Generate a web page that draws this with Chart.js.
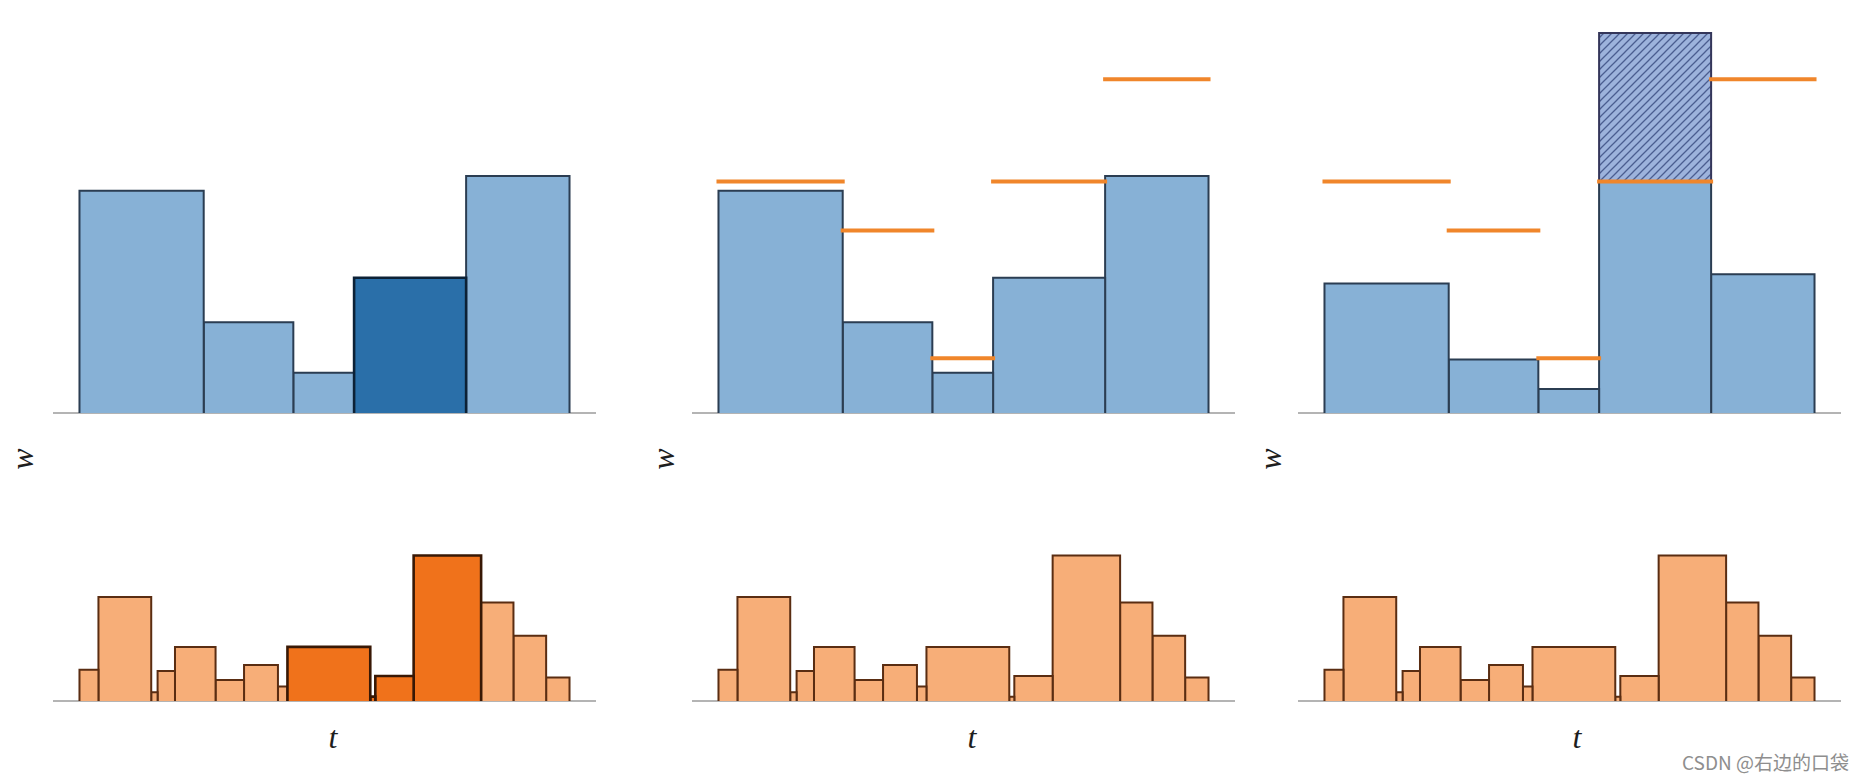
<!DOCTYPE html>
<html><head><meta charset="utf-8">
<script src="https://cdn.jsdelivr.net/npm/chart.js@4.4.1/dist/chart.umd.min.js"></script>
<style>
html,body{margin:0;padding:0;background:#fff;overflow:hidden;}
#stage{position:relative;width:1867px;height:780px;background:#fff;}
canvas{position:absolute;}
.lbl{position:absolute;font-family:"Liberation Serif","DejaVu Serif",serif;font-style:italic;font-size:32px;color:#1e1e1e;line-height:1;transform:translate(-50%,-50%);white-space:nowrap;}
.w{transform:translate(-50%,-50%) rotate(-90deg);}
.mark{position:absolute;font-family:"Noto Sans CJK SC","Noto Sans",sans-serif;font-size:19px;color:#8e8e8e;white-space:nowrap;line-height:1;}
</style></head><body><div id="stage"></div>
<script>
// ---- data ----
const weightEdges = [0, 25.35, 43.64, 56.04, 78.9, 100];          // bins of the upper histograms
const weightsInitial = [5.85, 2.39, 1.06, 3.56, 6.24];            // panels 1 and 2
const weightLimits = [6.09, 4.80, 1.44, 6.09, 8.78];              // orange thresholds (panels 2 and 3)
const weightsUpdated = [3.41, 1.41, 0.63, 10.0, 3.65];            // panel 3
const selectedWeight = 3;                                          // dark blue bar in panel 1
const timeEdges = [0, 3.87, 14.64, 15.94, 19.49, 27.77, 33.58, 40.50, 42.44, 59.34, 60.37, 68.19, 81.96, 88.56, 95.23, 100];
const timeCounts = [2.14, 7.15, 0.6, 2.07, 3.72, 1.45, 2.48, 0.99, 3.72, 0.3, 1.72, 10.0, 6.78, 4.48, 1.61];
const selectedTimes = [8, 9, 10, 11];                              // dark orange bars in panel 1
const xLabel = 't';
const yLabel = 'w';
const watermark = 'CSDN @右边的口袋';

// ---- layout ----
const X_MIN = -5.2, X_MAX = 105.2;
const AXIS_LEN = 541;
const axisStarts = [54, 693, 1299];
const PAD = 10;
const TOP = {baseline: 413, height: 399, ymax: 10.5};
const BOT = {baseline: 701, height: 160, ymax: 11};

const C = {
  blue: '#87b1d6', blueEdge: '#2b3d52',
  blueDark: '#2a6fa9', blueDarkEdge: '#0c2136',
  orange: '#f7ae78', orangeEdge: '#5a2d12',
  orangeDark: '#f0721b', orangeDarkEdge: '#381805',
  limit: '#f0862b', axis: '#b4b4b4', hatchEdge: '#34365a'
};

function makeHatch(){
  const s = 8;
  const c = document.createElement('canvas'); c.width = s; c.height = s;
  const g = c.getContext('2d');
  g.fillStyle = '#9db3dc'; g.fillRect(0,0,s,s);
  g.strokeStyle = '#4b5e90'; g.lineWidth = 1.3;
  g.beginPath();
  g.moveTo(0,s); g.lineTo(s,0);
  g.moveTo(-1,1); g.lineTo(1,-1);
  g.moveTo(s-1,s+1); g.lineTo(s+1,s-1);
  g.stroke();
  return g.createPattern(c, 'repeat');
}

function rect(x0, x1, y0, y1, fillColor, edge, bw, order){
  return {
    type: 'line',
    data: [{x:x0,y:y0},{x:x0,y:y1},{x:x1,y:y1},{x:x1,y:y0}],
    backgroundColor: fillColor, borderColor: edge, borderWidth: bw,
    fill: {value: y0}, pointRadius: 0, tension: 0, clip: false,
    borderJoinStyle: 'miter', order: order
  };
}
function hline(x0, x1, y, color, bw, order){
  return {
    type: 'line', data: [{x:x0,y:y},{x:x1,y:y}],
    borderColor: color, borderWidth: bw, fill: false, pointRadius: 0,
    borderCapStyle: 'square', clip: false, order: order
  };
}
function baseline(){
  return hline(X_MIN, X_MAX, 0, C.axis, 2, 10);
}

function makeChart(left, cfg, datasets){
  const stage = document.getElementById('stage');
  const cv = document.createElement('canvas');
  const w = AXIS_LEN + 2*PAD, h = cfg.height + 2*PAD;
  cv.width = w; cv.height = h;
  cv.style.width = w + 'px'; cv.style.height = h + 'px';
  cv.style.left = (left - PAD) + 'px';
  cv.style.top = (cfg.baseline - cfg.height - PAD) + 'px';
  stage.appendChild(cv);
  new Chart(cv, {
    type: 'line',
    data: {datasets: datasets},
    options: {
      responsive: false, animation: false, events: [],
      layout: {padding: PAD},
      plugins: {legend: {display: false}, tooltip: {enabled: false}, title: {display: false}},
      scales: {
        x: {type: 'linear', min: X_MIN, max: X_MAX, display: false},
        y: {type: 'linear', min: 0, max: cfg.ymax, display: false}
      }
    }
  });
}

function addText(cls, text, x, y){
  const d = document.createElement('div');
  d.className = cls; d.textContent = text;
  d.style.left = x + 'px'; d.style.top = y + 'px';
  document.getElementById('stage').appendChild(d);
}

const hatch = makeHatch();

// ---- panel 1 top ----
{
  const ds = [];
  weightsInitial.forEach((v,i) => {
    const sel = i === selectedWeight;
    ds.push(rect(weightEdges[i], weightEdges[i+1], 0, v,
      sel ? C.blueDark : C.blue, sel ? C.blueDarkEdge : C.blueEdge, sel ? 2.6 : 2, sel ? 1 : 2));
  });
  ds.push(baseline());
  makeChart(axisStarts[0], TOP, ds);
}
// ---- panel 2 top ----
{
  const ds = [];
  weightLimits.forEach((v,i) => ds.push(hline(weightEdges[i], weightEdges[i+1], v, C.limit, 4, 0)));
  weightsInitial.forEach((v,i) => ds.push(rect(weightEdges[i], weightEdges[i+1], 0, v, C.blue, C.blueEdge, 2, 2)));
  ds.push(baseline());
  makeChart(axisStarts[1], TOP, ds);
}
// ---- panel 3 top ----
{
  const ds = [];
  weightLimits.forEach((v,i) => ds.push(hline(weightEdges[i], weightEdges[i+1], v, C.limit, 4, 0)));
  weightsUpdated.forEach((v,i) => {
    const lim = weightLimits[i];
    if (v > lim) {
      ds.push(rect(weightEdges[i], weightEdges[i+1], lim, v, hatch, C.hatchEdge, 2, 1));
      ds.push(rect(weightEdges[i], weightEdges[i+1], 0, lim, C.blue, C.blueEdge, 2, 2));
    } else {
      ds.push(rect(weightEdges[i], weightEdges[i+1], 0, v, C.blue, C.blueEdge, 2, 2));
    }
  });
  ds.push(baseline());
  makeChart(axisStarts[2], TOP, ds);
}
// ---- bottom panels ----
[0,1,2].forEach(p => {
  const ds = [];
  timeCounts.forEach((v,i) => {
    const sel = p === 0 && selectedTimes.includes(i);
    ds.push(rect(timeEdges[i], timeEdges[i+1], 0, v,
      sel ? C.orangeDark : C.orange, sel ? C.orangeDarkEdge : C.orangeEdge, sel ? 2.6 : 2, sel ? 1 : 2));
  });
  ds.push(baseline());
  makeChart(axisStarts[p], BOT, ds);
});

// ---- labels ----
addText('lbl w', yLabel, 22, 459);
addText('lbl w', yLabel, 663, 459);
addText('lbl w', yLabel, 1270, 459);
addText('lbl', xLabel, 333, 737);
addText('lbl', xLabel, 972, 737);
addText('lbl', xLabel, 1577, 737);
addText('mark', watermark, 1682, 752);
</script>
</body></html>
